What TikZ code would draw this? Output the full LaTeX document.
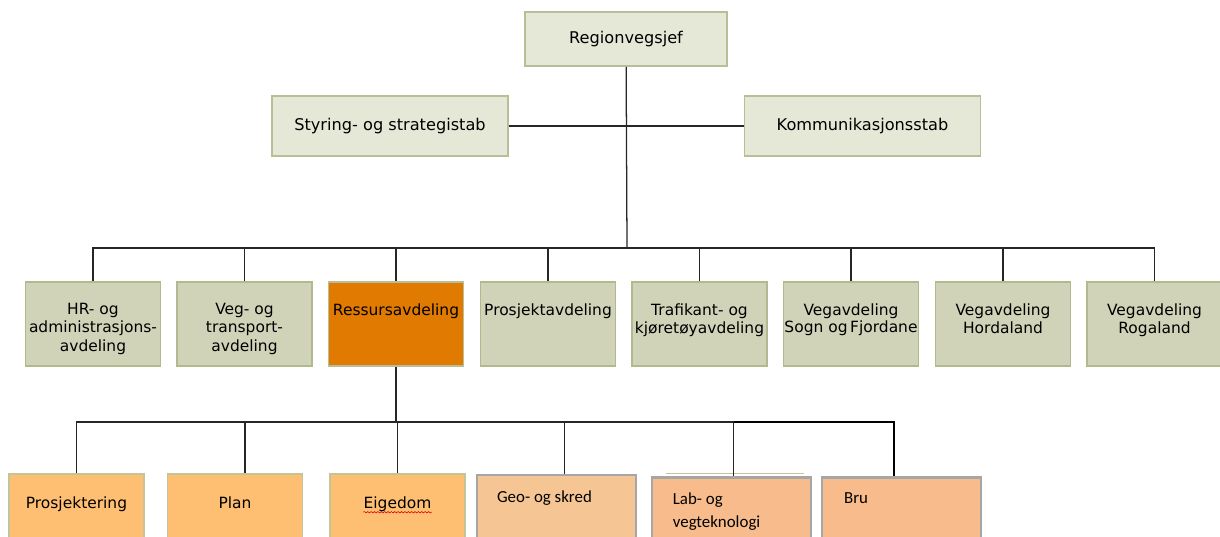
\documentclass[tikz,border=0pt]{standalone}
\usepackage{fontspec}
\setmainfont{DejaVu Sans}
\newfontfamily\calibri{Carlito}
\usetikzlibrary{positioning,decorations.pathmorphing}

\definecolor{stabfill}{HTML}{E6E8D7}
\definecolor{stabline}{HTML}{B8BE96}
\definecolor{avdfill}{HTML}{D0D3B7}
\definecolor{avdline}{HTML}{B3B98E}
\definecolor{ressfill}{HTML}{E07A00}
\definecolor{seksjfill}{HTML}{FFBF72}
\definecolor{seksjline}{HTML}{C4C49A}
\definecolor{geofill}{HTML}{F5C694}
\definecolor{labfill}{HTML}{F8BC8C}
\definecolor{graaline}{HTML}{A6A6A6}

\tikzset{
  stab/.style={draw=stabline, fill=stabfill, line width=1.2pt, font=\fontsize{11.5}{14}\selectfont},
  avd/.style={draw=avdline, fill=avdfill, line width=1.2pt, minimum width=3.375cm, minimum height=2.1cm},
  seksj/.style={draw=seksjline, fill=seksjfill, line width=1.2pt, minimum width=3.375cm, minimum height=2cm, anchor=north},
  grenseksj/.style={draw=graaline, line width=2pt, minimum width=3.975cm, minimum height=2cm, anchor=north},
  tekst/.style={inner sep=0pt, align=center},
  venstretekst/.style={inner sep=0pt, align=left, font=\calibri\fontsize{12}{16.4}\selectfont},
  linje/.style={draw=black!85, line width=0.9pt}
}

\begin{document}
\begin{tikzpicture}[x=0.025cm, y=-0.025cm, font=\fontsize{11}{13}\selectfont]
    \useasboundingbox (0,0) rectangle (1220,537);

    % leiing og stab
    \node[stab, minimum width=5.05cm, minimum height=1.35cm] (rvs) at (626,39) {Regionvegsjef};
    \node[stab, minimum width=5.9cm, minimum height=1.5cm] (styring) at (390,126) {Styring- og strategistab};
    \node[stab, minimum width=5.9cm, minimum height=1.5cm] (komm) at (862.5,126) {Kommunikasjonsstab};

    % avdelingar
    \node[avd] (hr) at (93,324) {};
    \node[avd] (veg) at (244.5,324) {};
    \node[avd, fill=ressfill, draw=stabline] (ress) at (396,324) {};
    \node[avd] (prosj) at (548,324) {};
    \node[avd] (trafikant) at (699.5,324) {};
    \node[avd] (sogn) at (851,324) {};
    \node[avd] (horda) at (1003,324) {};
    \node[avd] (roga) at (1154.5,324) {};

    \node[tekst, below=0.55cm of hr.north] (hrtekst) {HR- og\\administrasjons-\\avdeling};
    \node[tekst, below=0.55cm of veg.north] (vegtekst) {Veg- og\\transport-\\avdeling};
    \node[tekst, below=0.55cm of ress.north] (resstekst) {Ressursavdeling};
    \node[tekst, below=0.55cm of prosj.north] (prosjtekst) {Prosjektavdeling};
    \node[tekst, below=0.55cm of trafikant.north] (trafikanttekst) {Trafikant- og\\kjøretøyavdeling};
    \node[tekst, below=0.55cm of sogn.north, font=\fontsize{11}{12}\selectfont] (sogntekst) {Vegavdeling\\Sogn og\,Fjordane};
    \node[tekst, below=0.55cm of horda.north] (hordatekst) {Vegavdeling\\Hordaland};
    \node[tekst, below=0.55cm of roga.north] (rogatekst) {Vegavdeling\\Rogaland};

    % seksjonar under ressursavdelinga
    \node[seksj] (prosjektering) at (76.5,473) {};
    \node[seksj] (plan) at (235,473) {};
    \node[seksj] (eigedom) at (397.5,473) {};
    \node[grenseksj, fill=geofill, line width=1.4pt] (geo) at (556.5,474) {};
    \node[grenseksj, fill=labfill] (lab) at (731.5,476) {};
    \node[grenseksj, fill=labfill] (bru) at (901.5,476) {};

    \node[tekst, below=0.575cm of prosjektering.north] (prosjekteringtekst) {Prosjektering};
    \node[tekst, below=0.575cm of plan.north] (plantekst) {Plan};
    \node[tekst, below=0.575cm of eigedom.north] (eigedomtekst) {Eigedom};
    \node[venstretekst, below right=0.42cm and 0.52cm of geo.north west] (geotekst) {Geo- og skred};
    \node[venstretekst, below right=0.4cm and 0.55cm of lab.north west] (labtekst) {Lab- og\\vegteknologi};
    \node[venstretekst, below right=0.4cm and 0.58cm of bru.north west] (brutekst) {Bru};

    % raud strek under Eigedom
    \draw[red!85!black, line width=0.4pt, decorate, decoration={snake, amplitude=0.5pt, segment length=2.4pt}]
      ([yshift=-0.5pt]eigedomtekst.south west) -- ([yshift=-0.5pt]eigedomtekst.south east);
    \draw[seksjline, line width=1pt] ([xshift=0.375cm, yshift=1.6pt]lab.north west) -- ([xshift=-0.2cm, yshift=1.6pt]lab.north east);

    % linjer
    \coordinate (hovudbuss) at (627,248);
    \coordinate (ressbuss) at (396,422);
    \draw[linje] (styring) -- (komm);
    \draw[linje] (rvs) -- (hovudbuss);
    \foreach \n in {hr,veg,ress,prosj,trafikant,sogn,horda,roga}
      \draw[linje] (\n.north) |- (hovudbuss);
    \draw[linje] (ress) -- (ressbuss);
    \foreach \n/\s in {prosjektering/0,plan/0.25,eigedom/0,geo/0.2,lab/0.05}
      \draw[linje] ([xshift=\s cm]\n.north) |- (ressbuss);
    \draw[black, line width=1.7pt] ([xshift=-0.19cm]bru.north) |- ([xshift=0.05cm]lab.north |- ressbuss);
\end{tikzpicture}
\end{document}
